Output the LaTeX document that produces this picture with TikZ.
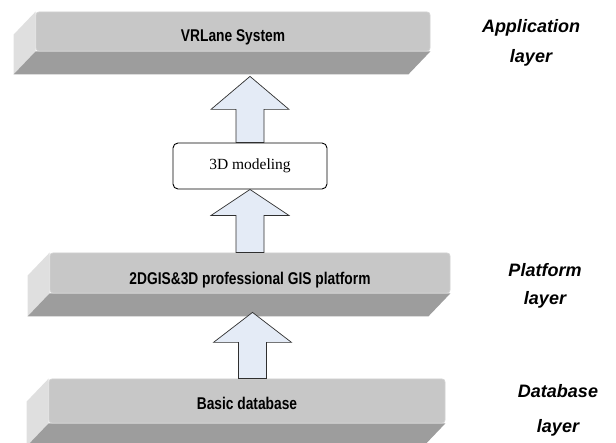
\documentclass[tikz,border=0pt]{standalone}
\usepackage{fontspec}
\setmainfont{Liberation Serif}
\setsansfont{Liberation Sans}
\newfontfamily\barfont[FakeStretch=0.81]{Liberation Sans}
\usetikzlibrary{calc,backgrounds}

\definecolor{topgray}{HTML}{C7C7C7}
\definecolor{topedge}{HTML}{D2D2D2}
\definecolor{frontgray}{HTML}{9D9D9D}
\definecolor{sidegray}{HTML}{DFDFDF}
\definecolor{arrowfill}{HTML}{E4EBF6}
\definecolor{arrowline}{HTML}{2F2F2F}

\tikzset{
  barface/.style={fill=topgray, draw=topedge, line width=0.8pt,
    rounded corners=3pt, inner sep=0pt,
    font=\barfont\bfseries\fontsize{17}{20}\selectfont},
  frontface/.style={fill=frontgray},
  sideface/.style={fill=sidegray},
  modbox/.style={draw=black, line width=0.9pt, fill=white, rounded corners=5pt,
    minimum width=154pt, minimum height=46pt, inner sep=0pt,
    font=\rmfamily\fontsize{15.5}{18}\selectfont},
  layerlabel/.style={align=center, inner sep=0pt,
    font=\sffamily\bfseries\itshape\fontsize{18}{30}\selectfont},
  blockarrow/.style={fill=arrowfill, draw=arrowline, line width=0.7pt, line join=miter}
}

% depth of the bevelled slab below and to the left of its top face
\newcommand\slabsides[1]{%
  \begin{pgfonlayer}{background}
    \fill[sideface] (#1.north west) -- (#1.south west)
      -- ($(#1.south west)+(-22,23)$) -- ($(#1.north west)+(-22,23)$) -- cycle;
    \fill[frontface] (#1.south west) -- (#1.south east)
      -- ($(#1.south east)+(-22,23)$) -- ($(#1.south west)+(-22,23)$) -- cycle;
  \end{pgfonlayer}}

% broad upward arrow: #1 = tail point, #2 = tip point
\newcommand\upblock[3][31pt]{%
  \draw[blockarrow] let \p1=#2, \p2=#3 in
    (\x2,\y2) -- (\x2+39pt,\y2-#1) -- (\x2+14pt,\y2-#1) -- (\x2+14pt,\y1)
    -- (\x2-14pt,\y1) -- (\x2-14pt,\y2-#1) -- (\x2-39pt,\y2-#1) -- cycle;}

\begin{document}
\begin{tikzpicture}[x=1pt,y=-1pt]
  \useasboundingbox (0,0) rectangle (616,443);
  \clip (0,0) rectangle (616,443);

  % layer slabs
  \node[barface, minimum width=394pt, minimum height=39pt,
        text height=29.7pt, text depth=9.3pt] (app) at (233,31.5) {VRLane System};
  \slabsides{app}
  \node[barface, minimum width=400pt, minimum height=40pt,
        text height=32pt, text depth=8pt] (plat) at (250,273) {2DGIS\&3D professional GIS platform};
  \slabsides{plat}
  \node[barface, minimum width=396pt, minimum height=44pt,
        text height=31pt, text depth=13pt] (base) at (247,401) {Basic database};
  \slabsides{base}

  \coordinate (appbot) at ($(app.south)+(0,25)$);
  \coordinate (platbot) at ($(plat.south)+(0,19)$);

  % intermediate step
  \node[modbox] (mod) at (250,166) {3D modeling};

  % flow arrows
  \upblock[33pt]{(mod.north)}{(mod.north |- appbot)}
  \upblock[26pt]{(plat.north -| mod.south)}{(mod.south)}
  \upblock[30pt]{($(base.north -| mod.south)+(2.5,0)$)}{($(platbot -| mod.south)+(2.5,0)$)}

  % layer captions
  \node[layerlabel] (lapp) at (531,42.5) {Application\\layer};
  \node[layerlabel] (lplat) at (545,285.5) {Platform\\[-2pt]layer};
  \node[layerlabel] (lbase) at (558,410) {Database\\[5pt]layer};
\end{tikzpicture}
\end{document}
